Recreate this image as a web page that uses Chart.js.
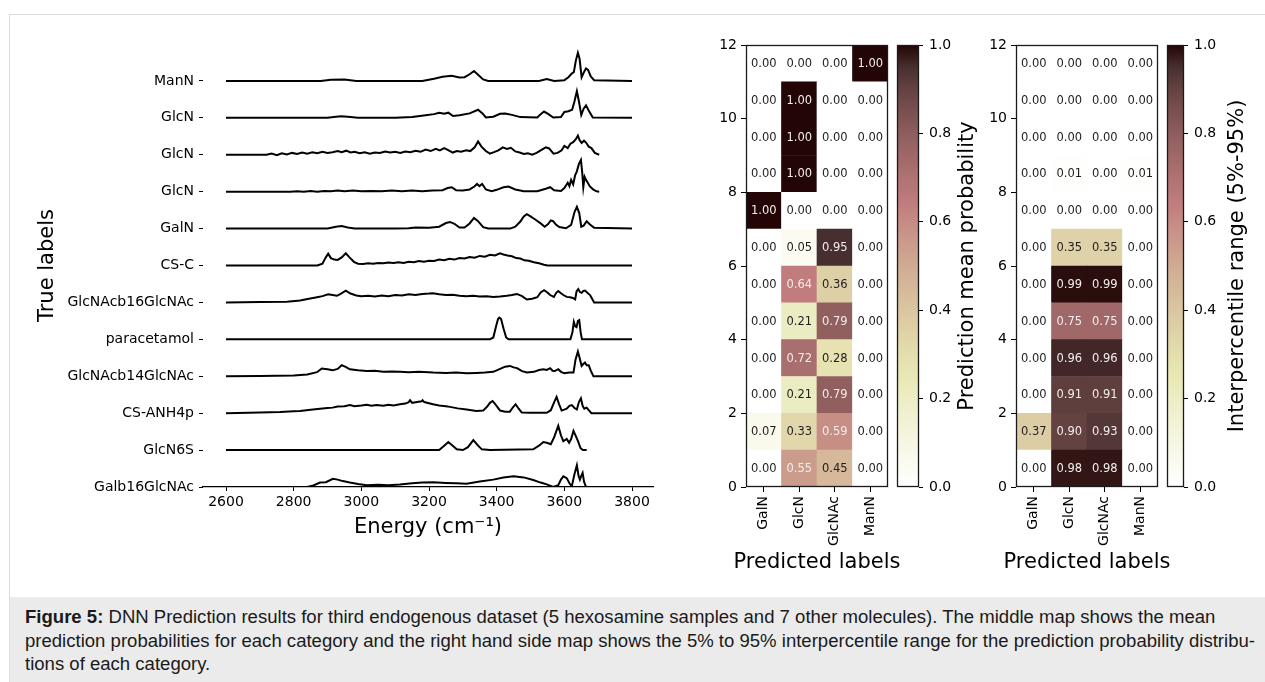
<!DOCTYPE html>
<html><head><meta charset="utf-8">
<script src="https://cdn.jsdelivr.net/npm/chart.js"></script>
<style>
html,body{margin:0;padding:0;background:#fff;width:1265px;height:682px;overflow:hidden;position:relative;}
#frame{position:absolute;left:9px;top:14px;width:1300px;height:700px;border:1px solid #dcdcdc;box-sizing:border-box;}
canvas{position:absolute;top:0;}
#caption{position:absolute;left:10px;top:597px;width:1255px;height:85px;background:#ebebeb;font-family:'Liberation Sans Narrow','Liberation Sans',Arial,sans-serif;font-size:18px;line-height:23.5px;color:#1a1a1a;padding:8px 0 0 15px;box-sizing:border-box;white-space:nowrap;}
#caption span{display:inline-block;}
</style></head>
<body>
<div id="frame"></div>
<canvas id="spec" width="680" height="547" style="left:0px"></canvas>
<canvas id="hm1" width="240" height="580" style="left:690px"></canvas>
<canvas id="cb1" width="110" height="580" style="left:890px"></canvas>
<canvas id="hm2" width="240" height="580" style="left:960px"></canvas>
<canvas id="cb2" width="105" height="580" style="left:1160px"></canvas>
<div id="caption"><span id="cl1"><b>Figure 5:</b> DNN Prediction results for third endogenous dataset (5 hexosamine samples and 7 other molecules). The middle map shows the mean</span><br><span id="cl2">prediction probabilities for each category and the right hand side map shows the 5% to 95% interpercentile range for the prediction probability distribu-</span><br><span id="cl3">tions of each category.</span></div>
<script>
// ---------- DATA ----------
// spectra: [energy (cm^-1), relative intensity] pairs
const specManN = [[2600,0],[2880,0],[2910,0.03],[2950,0.04],[2985,0],[3180,0],[3215,0.06],[3240,0.11],[3267,0.14],[3290,0.09],[3305,0.1],[3320,0.18],[3333,0.27],[3345,0.17],[3360,0.04],[3375,0],[3525,0],[3548,0.05],[3570,0],[3600,0.02],[3612,0.1],[3622,0.2],[3628,0.24],[3634,0.55],[3640,0.76],[3645,0.6],[3651,0.1],[3657,0.22],[3664,0.34],[3670,0.3],[3678,0.12],[3688,0.02],[3800,0]];
const specGlcN_a = [[2600,0],[2900,0],[2925,0.03],[2940,0.04],[2960,0.03],[2990,0],[3100,0],[3150,0.02],[3190,0.07],[3215,0.1],[3230,0.14],[3245,0.11],[3257,0.14],[3271,0.05],[3290,0.07],[3320,0.12],[3345,0.22],[3358,0.12],[3368,0.01],[3390,0.03],[3410,0.11],[3425,0.12],[3445,0.08],[3470,0.02],[3520,0.01],[3530,0.1],[3540,0.17],[3553,0.1],[3567,0.01],[3590,0.02],[3600,0.16],[3612,0.18],[3623,0.22],[3630,0.45],[3637,0.72],[3643,0.45],[3650,0.08],[3657,0.25],[3664,0.34],[3672,0.2],[3684,0.01],[3800,0]];
const specGlcN_b = [[2600,0],[2720,0],[2735,0.03],[2750,-0.01],[2765,0.04],[2780,0.01],[2795,0.05],[2810,0.02],[2825,0.06],[2840,0.03],[2855,0.07],[2870,0.04],[2885,0.08],[2900,0.05],[2915,0.07],[2930,0.1],[2942,0.07],[2955,0.11],[2968,0.06],[2980,0.08],[2995,0.04],[3010,0.07],[3025,0.03],[3040,0.06],[3055,0.05],[3070,0.09],[3085,0.06],[3100,0.08],[3115,0.05],[3130,0.09],[3145,0.07],[3160,0.11],[3175,0.08],[3190,0.14],[3205,0.1],[3220,0.16],[3232,0.12],[3245,0.18],[3258,0.12],[3270,0.06],[3282,0.1],[3295,0.08],[3310,0.12],[3322,0.1],[3335,0.2],[3345,0.36],[3355,0.22],[3368,0.1],[3380,0.03],[3392,0.07],[3405,0.12],[3418,0.2],[3430,0.16],[3442,0.19],[3455,0.09],[3468,0.06],[3480,0.02],[3492,0.04],[3505,0.0],[3518,0.05],[3530,0.12],[3545,0.2],[3555,0.17],[3568,0.03],[3580,0.05],[3592,0.12],[3600,0.24],[3610,0.18],[3618,0.3],[3626,0.34],[3634,0.42],[3640,0.52],[3645,0.4],[3651,0.32],[3658,0.38],[3664,0.33],[3672,0.22],[3680,0.18],[3690,0.05],[3703,0]];
const specGlcN_c = [[2600,0],[2790,0],[2810,0.01],[2830,0],[2850,0.02],[2870,0],[2890,0.02],[2910,0.01],[2930,0.03],[2950,0.01],[2975,0.03],[3000,0.01],[3030,0.02],[3060,0.01],[3090,0.03],[3120,0.01],[3150,0.03],[3180,0.01],[3210,0.03],[3240,0.04],[3255,0.1],[3267,0.12],[3280,0.04],[3300,0.03],[3320,0.06],[3334,0.14],[3342,0.21],[3349,0.15],[3357,0.21],[3368,0.06],[3385,0.01],[3400,0.05],[3420,0.12],[3435,0.14],[3455,0.06],[3480,0.01],[3520,0.01],[3545,0.08],[3558,0.12],[3570,0.04],[3590,0.02],[3600,0.1],[3610,0.24],[3615,0.15],[3620,0.32],[3626,0.2],[3632,0.45],[3637,0.55],[3643,0.75],[3649,0.86],[3653,0.5],[3656,0.12],[3660,0.4],[3664,0.32],[3668,0.26],[3675,0.15],[3685,0.06],[3695,0.01],[3703,0]];
const specGalN = [[2600,0],[2900,0],[2925,0.05],[2942,0.07],[2960,0.03],[2980,0],[3100,0],[3140,0.01],[3160,0.03],[3200,0.02],[3230,0.05],[3250,0.15],[3262,0.18],[3275,0.13],[3290,0.03],[3305,0.03],[3320,0.14],[3333,0.29],[3345,0.2],[3360,0.04],[3375,0],[3440,0],[3455,0.05],[3470,0.19],[3480,0.33],[3489,0.39],[3500,0.33],[3515,0.24],[3530,0.14],[3542,0.05],[3552,0.12],[3560,0.22],[3567,0.2],[3575,0.11],[3585,0.04],[3605,0.01],[3620,0.1],[3630,0.45],[3637,0.59],[3644,0.42],[3650,0.05],[3657,0.08],[3666,0.2],[3675,0.12],[3688,0.02],[3800,0]];
const specCSC = [[2600,0],[2870,0],[2885,0.05],[2895,0.22],[2902,0.32],[2910,0.2],[2920,0.16],[2930,0.15],[2942,0.22],[2954,0.33],[2965,0.22],[2978,0.1],[2990,0.05],[3005,0.04],[3020,0.06],[3035,0.05],[3050,0.07],[3065,0.06],[3080,0.08],[3095,0.07],[3110,0.09],[3125,0.07],[3140,0.1],[3155,0.09],[3170,0.12],[3185,0.1],[3200,0.13],[3215,0.12],[3230,0.16],[3245,0.14],[3260,0.18],[3275,0.16],[3290,0.2],[3305,0.19],[3320,0.23],[3335,0.21],[3350,0.26],[3365,0.24],[3380,0.29],[3395,0.27],[3410,0.33],[3420,0.3],[3432,0.27],[3445,0.25],[3458,0.2],[3470,0.19],[3482,0.14],[3495,0.13],[3510,0.09],[3525,0.06],[3540,0.02],[3550,0],[3800,0]];
const specGlcNAcb16GlcNAc = [[2600,0],[2700,0.01],[2780,0.02],[2819,0.05],[2845,0.1],[2869,0.14],[2885,0.17],[2902,0.22],[2915,0.2],[2928,0.18],[2940,0.24],[2954,0.32],[2968,0.24],[2985,0.19],[3000,0.17],[3020,0.18],[3040,0.16],[3060,0.19],[3080,0.17],[3100,0.2],[3120,0.19],[3140,0.22],[3160,0.2],[3180,0.23],[3200,0.24],[3212,0.25],[3230,0.22],[3250,0.2],[3270,0.21],[3290,0.18],[3311,0.17],[3330,0.18],[3350,0.16],[3370,0.17],[3390,0.15],[3410,0.16],[3430,0.18],[3445,0.2],[3460,0.23],[3475,0.17],[3489,0.08],[3505,0.1],[3520,0.14],[3530,0.27],[3540,0.33],[3550,0.27],[3558,0.2],[3569,0.15],[3576,0.26],[3582,0.31],[3590,0.25],[3597,0.2],[3607,0.15],[3617,0.14],[3625,0.12],[3632,0.08],[3636,0.3],[3641,0.36],[3646,0.28],[3651,0.26],[3656,0.31],[3661,0.32],[3668,0.26],[3676,0.2],[3682,0.1],[3688,0],[3800,0]];
const specParacetamol = [[2600,0],[3380,0],[3390,0.05],[3398,0.35],[3404,0.55],[3408,0.59],[3413,0.55],[3420,0.3],[3428,0.05],[3435,0],[3618,0],[3624,0.2],[3628,0.47],[3632,0.35],[3636,0.33],[3640,0.5],[3644,0.52],[3648,0.2],[3652,0],[3800,0]];
const specGlcNAcb14GlcNAc = [[2600,0],[2700,0.01],[2800,0.02],[2840,0.05],[2869,0.11],[2883,0.21],[2900,0.19],[2915,0.16],[2930,0.2],[2942,0.3],[2955,0.25],[2966,0.19],[2990,0.16],[3016,0.14],[3040,0.15],[3065,0.12],[3090,0.13],[3114,0.12],[3140,0.11],[3170,0.12],[3212,0.1],[3250,0.09],[3280,0.1],[3311,0.08],[3340,0.09],[3365,0.1],[3390,0.12],[3410,0.2],[3425,0.26],[3439,0.28],[3450,0.24],[3460,0.22],[3475,0.14],[3489,0.1],[3510,0.12],[3525,0.17],[3538,0.19],[3548,0.17],[3558,0.22],[3565,0.15],[3572,0.14],[3582,0.19],[3590,0.12],[3600,0.08],[3615,0.1],[3627,0.1],[3633,0.45],[3640,0.67],[3645,0.5],[3651,0.28],[3656,0.33],[3661,0.37],[3666,0.3],[3672,0.3],[3678,0.15],[3686,0],[3800,0]];
const specCSANH4p = [[2600,0],[2700,0.02],[2760,0.03],[2800,0.05],[2819,0.06],[2850,0.09],[2878,0.12],[2900,0.14],[2915,0.15],[2930,0.18],[2950,0.19],[2966,0.22],[2980,0.19],[3000,0.21],[3016,0.23],[3030,0.2],[3045,0.22],[3065,0.2],[3080,0.23],[3095,0.21],[3114,0.24],[3130,0.26],[3140,0.3],[3144,0.35],[3150,0.28],[3165,0.3],[3178,0.32],[3181,0.35],[3186,0.3],[3200,0.27],[3212,0.24],[3230,0.21],[3250,0.19],[3262,0.17],[3285,0.13],[3311,0.1],[3340,0.06],[3360,0.07],[3372,0.18],[3380,0.28],[3388,0.33],[3398,0.22],[3410,0.07],[3425,0.04],[3439,0.04],[3448,0.16],[3456,0.24],[3465,0.12],[3474,0.02],[3500,0.01],[3548,0.01],[3560,0.08],[3570,0.3],[3577,0.44],[3584,0.25],[3592,0.07],[3607,0.12],[3615,0.2],[3622,0.22],[3630,0.14],[3637,0.1],[3643,0.3],[3649,0.4],[3654,0.2],[3659,0.12],[3666,0.15],[3672,0.08],[3680,0],[3800,0]];
const specGlcN6S = [[2600,0],[3230,0],[3245,0.12],[3257,0.22],[3270,0.12],[3282,0.02],[3300,0],[3315,0.08],[3331,0.27],[3345,0.12],[3356,0.02],[3380,0],[3508,0.02],[3525,0.12],[3538,0.22],[3548,0.2],[3560,0.16],[3570,0.35],[3582,0.66],[3590,0.4],[3597,0.24],[3607,0.3],[3614,0.2],[3620,0.3],[3627,0.52],[3633,0.4],[3640,0.25],[3648,0.05],[3655,0],[3666,0]];
const specGalb16GlcNAc = [[2532,0],[2840,0],[2858,0.04],[2878,0.12],[2895,0.13],[2916,0.22],[2930,0.2],[2945,0.16],[2966,0.12],[2990,0.08],[3016,0.05],[3050,0.06],[3080,0.05],[3114,0.07],[3150,0.1],[3180,0.12],[3212,0.13],[3250,0.11],[3280,0.1],[3311,0.09],[3350,0.15],[3390,0.2],[3420,0.26],[3450,0.29],[3480,0.26],[3508,0.19],[3530,0.12],[3548,0.07],[3567,0.0],[3582,0.05],[3590,0.2],[3597,0.29],[3607,0.24],[3615,0.1],[3622,0.02],[3630,0.35],[3637,0.59],[3642,0.3],[3646,0.2],[3650,0.3],[3654,0.38],[3658,0.15],[3664,0]];

// true labels, bottom row first
const trueLabels = ['Galb16GlcNAc','GlcN6S','CS-ANH4p','GlcNAcb14GlcNAc','paracetamol','GlcNAcb16GlcNAc','CS-C','GalN','GlcN','GlcN','GlcN','ManN'];
const spectra = [specGalb16GlcNAc,specGlcN6S,specCSANH4p,specGlcNAcb14GlcNAc,specParacetamol,specGlcNAcb16GlcNAc,specCSC,specGalN,specGlcN_c,specGlcN_b,specGlcN_a,specManN];
const energyTicks = [2600,2800,3000,3200,3400,3600,3800];

// heatmaps (row 0 = bottom ... row 11 = top)
const predictedLabels = ['GalN','GlcN','GlcNAc','ManN'];
const meanGalN   = [0.00,0.07,0.00,0.00,0.00,0.00,0.00,1.00,0.00,0.00,0.00,0.00];
const meanGlcN   = [0.55,0.33,0.21,0.72,0.21,0.64,0.05,0.00,1.00,1.00,1.00,0.00];
const meanGlcNAc = [0.45,0.59,0.79,0.28,0.79,0.36,0.95,0.00,0.00,0.00,0.00,0.00];
const meanManN   = [0.00,0.00,0.00,0.00,0.00,0.00,0.00,0.00,0.00,0.00,0.00,1.00];
const rangeGalN   = [0.00,0.37,0.00,0.00,0.00,0.00,0.00,0.00,0.00,0.00,0.00,0.00];
const rangeGlcN   = [0.98,0.90,0.91,0.96,0.75,0.99,0.35,0.00,0.01,0.00,0.00,0.00];
const rangeGlcNAc = [0.98,0.93,0.91,0.96,0.75,0.99,0.35,0.00,0.00,0.00,0.00,0.00];
const rangeManN   = [0.00,0.00,0.00,0.00,0.00,0.00,0.00,0.00,0.01,0.00,0.00,0.00];
const rowTicks = [0,2,4,6,8,10,12];
const colorbarTicks = [0,0.2,0.4,0.6,0.8,1.0];

// ---------- STYLE ----------
const FONT = "'DejaVu Sans'";
Chart.defaults.font.family = FONT;
Chart.defaults.font.size = 14;
Chart.defaults.color = '#000';
Chart.defaults.animation = false;

// pink_r style colormap stops
const cmapStops = [[0,[255,255,255]],[0.1,[246,246,228]],[0.2,[237,237,198]],[0.254,[232,232,180]],[0.3,[228,222,174]],[0.4,[218,198,161]],[0.5,[208,171,147]],[0.6,[198,139,132]],[0.635,[194,126,126]],[0.7,[176,114,114]],[0.8,[143,93,93]],[0.9,[101,66,66]],[0.95,[72,47,47]],[1,[35,5,5]]];
function cmap(v){
  for(let k=1;k<cmapStops.length;k++){
    if(v<=cmapStops[k][0]){
      const [a,ca]=cmapStops[k-1],[b,cb]=cmapStops[k];
      const t=(v-a)/(b-a);
      return 'rgb('+ca.map((c,i)=>Math.round(c+(cb[i]-c)*t)).join(',')+')';
    }
  }
  return 'rgb(35,5,5)';
}

const framePlugin = {id:'frame', afterDraw(chart){
  const {left,top,right,bottom}=chart.chartArea; const c=chart.ctx;
  c.save(); c.strokeStyle='#1a1a1a'; c.lineWidth=1.3;
  c.strokeRect(Math.round(left)+0.5,Math.round(top)+0.5,Math.round(right-left)-1,Math.round(bottom-top)-1);
  c.restore();
}};
const cellTextPlugin = {id:'cellText', afterDatasetsDraw(chart){
  const c=chart.ctx; c.save(); c.font='11.5px '+FONT; c.textAlign='center'; c.textBaseline='middle';
  chart.data.datasets.forEach((ds,i)=>{
    chart.getDatasetMeta(i).data.forEach((el,j)=>{
      const v=ds.values[j]; const p=el.getProps(['x','y','base'],true);
      c.fillStyle = v>0.5 ? '#f3eded' : '#1e1e1e';
      c.fillText(v.toFixed(2), p.x, (p.y+p.base)/2+0.5);
    });
  });
  c.restore();
}};
const bottomTitlePlugin = {id:'bottomTitle', afterDraw(chart, args, opts){
  const c=chart.ctx; const {left,right}=chart.chartArea;
  c.save(); c.font='21px '+FONT; c.fillStyle='#000'; c.textAlign='center'; c.textBaseline='middle';
  c.fillText(opts.text,(left+right)/2,opts.y); c.restore();
}};
const fixW = w => (scale)=>{ scale.width = w; };
const fixH = h => (scale)=>{ scale.height = h; };
const setTicks = vals => (scale)=>{ scale.ticks = vals.map(v=>({value:v})); };

// ---------- SPECTRA ----------
new Chart(document.getElementById('spec'), {
  type:'line',
  data:{ datasets: spectra.map((s,row)=>({
    data: s.map(p=>({x:p[0], y:row+p[1]})),
    borderColor:'#000', borderWidth:2, pointRadius:0, tension:0, fill:false
  }))},
  options:{
    responsive:false, devicePixelRatio:1,
    layout:{padding:{left:0,top:44,right:27,bottom:0}},
    plugins:{legend:{display:false},tooltip:{enabled:false}},
    scales:{
      x:{type:'linear', min:2532, max:3862, afterBuildTicks:setTicks(energyTicks), afterFit:fixH(60),
         grid:{drawOnChartArea:false, drawTicks:true, tickLength:4, tickColor:'#000'},
         border:{display:true, color:'#000', width:1.2},
         ticks:{padding:3, font:{size:14}, callback:(v)=>String(v)},
         title:{display:true, text:'Energy (cm\u207B\u00B9)', font:{size:21}, padding:{top:0,bottom:7}}},
      y:{type:'linear', min:0, max:12, afterBuildTicks:setTicks([0,1,2,3,4,5,6,7,8,9,10,11]), afterFit:fixW(203),
         grid:{drawOnChartArea:false, drawTicks:true, tickLength:4, tickColor:'#000'},
         border:{display:false},
         ticks:{padding:5, font:{size:14}, callback:(v)=>trueLabels[v]},
         title:{display:true, text:'True labels', font:{size:21}, padding:{top:35,bottom:0}}}
    }
  }
});

// ---------- HEATMAPS ----------
function heatChart(id, cols){
  const datasets=[];
  for(let r=0;r<12;r++){
    const vals = cols.map(c=>c[r]);
    datasets.push({data:vals.map(()=>1), values:vals, backgroundColor:vals.map(cmap), borderWidth:0, barPercentage:1, categoryPercentage:1});
  }
  new Chart(document.getElementById(id), {
    type:'bar',
    data:{labels:predictedLabels, datasets},
    options:{
      responsive:false, devicePixelRatio:1,
      layout:{padding:{left:0,top:45,right:42,bottom:0}},
      plugins:{legend:{display:false},tooltip:{enabled:false},bottomTitle:{text:'Predicted labels', y:563}},
      scales:{
        x:{stacked:true, afterFit:fixH(93),
           grid:{drawOnChartArea:false, drawTicks:true, tickLength:5, tickColor:'#000', offset:false},
           border:{display:false},
           ticks:{minRotation:90, maxRotation:90, autoSkip:false, padding:4, font:{size:14}}},
        y:{stacked:true, min:0, max:12, afterBuildTicks:setTicks(rowTicks), afterFit:fixW(56),
           grid:{drawOnChartArea:false, drawTicks:true, tickLength:5, tickColor:'#000'},
           border:{display:false},
           ticks:{padding:4, font:{size:14}}}
      }
    },
    plugins:[cellTextPlugin, framePlugin, bottomTitlePlugin]
  });
}
heatChart('hm1',[meanGalN,meanGlcN,meanGlcNAc,meanManN]);
heatChart('hm2',[rangeGalN,rangeGlcN,rangeGlcNAc,rangeManN]);

// ---------- COLORBARS ----------
function colorbar(id, label){
  const titlePlugin = {id:'cbTitle', afterDraw(chart){
    const c=chart.ctx; const {top,bottom}=chart.chartArea;
    c.save(); c.translate(78,(top+bottom)/2); c.rotate(-Math.PI/2);
    c.font='21px '+FONT; c.fillStyle='#000'; c.textAlign='center'; c.textBaseline='middle';
    c.fillText(label,0,0); c.restore();
  }};
  new Chart(document.getElementById(id), {
    type:'bar',
    data:{labels:[''], datasets:[{data:[[0,1]], borderWidth:0, barPercentage:1, categoryPercentage:1,
      backgroundColor:(ctx)=>{
        const ca=ctx.chart.chartArea; if(!ca) return '#fff';
        const g=ctx.chart.ctx.createLinearGradient(0,ca.bottom,0,ca.top);
        cmapStops.forEach(s=>g.addColorStop(s[0],'rgb('+s[1].join(',')+')'));
        return g;
      }}]},
    options:{
      responsive:false, devicePixelRatio:1,
      layout:{padding:{left:7,top:45,right:0,bottom:93}},
      plugins:{legend:{display:false},tooltip:{enabled:false}},
      scales:{
        x:{display:false},
        y:{position:'right', min:0, max:1, afterBuildTicks:setTicks(colorbarTicks), afterFit:fixW(81),
           grid:{drawOnChartArea:false, drawTicks:true, tickLength:4, tickColor:'#000'},
           border:{display:false},
           ticks:{padding:6, font:{size:14}, callback:(v)=>v.toFixed(1)}}
      }
    },
    plugins:[framePlugin, titlePlugin]
  });
}
colorbar('cb1','Prediction mean probability');
colorbar('cb2','Interpercentile range (5%-95%)');

// fit caption width to the figure (line 2 spans 25..1256)
(function(){
  const l2=document.getElementById('cl2');
  const cap=document.getElementById('caption');
  const w=l2.getBoundingClientRect().width;
  const fs=parseFloat(getComputedStyle(cap).fontSize);
  cap.style.fontSize=(fs*1231/w).toFixed(2)+'px';
})();
</script>
</body></html>
